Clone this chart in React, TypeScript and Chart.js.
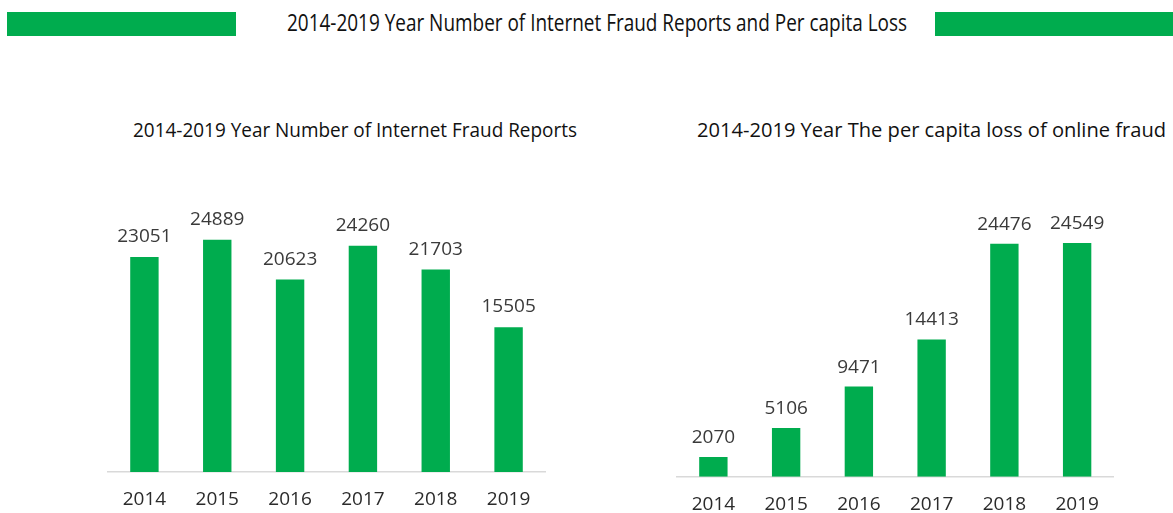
import React, { useEffect, useRef, useMemo } from "react";
import { Chart, registerables } from "chart.js";
Chart.register(...registerables);

const years = ["2014", "2015", "2016", "2017", "2018", "2019"];
const fraudReports = [23051, 24889, 20623, 24260, 21703, 15505];
const perCapitaLoss = [2070, 5106, 9471, 14413, 24476, 24549];

const mainTitle = "2014-2019 Year Number of Internet Fraud Reports and Per capita Loss";
const leftTitle = "2014-2019 Year Number of Internet Fraud Reports";
const rightTitle = "2014-2019 Year The per capita loss of online fraud";

const GREEN = "#00AC4E";
const FONT = '"Open Sans", "Noto Sans", sans-serif';

const valueLabels = {
  id: "valueLabels",
  afterDatasetsDraw(chart: any, _args: any, opts: any) {
    const ctx = chart.ctx;
    const meta = chart.getDatasetMeta(0);
    const data = chart.data.datasets[0].data;
    ctx.save();
    ctx.font = opts.font;
    ctx.fillStyle = opts.color;
    ctx.textAlign = "center";
    ctx.textBaseline = "alphabetic";
    meta.data.forEach((bar: any, i: number) => {
      ctx.fillText(String(data[i]), bar.x, bar.y - opts.gap);
    });
    ctx.restore();
  },
};

type BarProps = {
  labels: string[];
  values: number[];
  left: number;
  top: number;
  width: number;
  height: number;
  pad: { left: number; right: number; top: number; bottom: number };
  axisHeight: number;
  tickPad: number;
  gap: number;
};

function BarChart(p: BarProps) {
  const ref = useRef<HTMLCanvasElement | null>(null);
  useEffect(() => {
    if (!ref.current) return;
    const chart = new Chart(ref.current, {
      type: "bar",
      data: {
        labels: p.labels,
        datasets: [
          {
            data: p.values,
            backgroundColor: GREEN,
            borderWidth: 0,
            barPercentage: 0.39,
            categoryPercentage: 1,
          },
        ],
      },
      options: {
        responsive: false,
        animation: false,
        devicePixelRatio: 1,
        layout: { padding: p.pad },
        plugins: {
          legend: { display: false },
          tooltip: { enabled: false },
          valueLabels: { font: `19px ${FONT}`, color: "#3a3a3a", gap: p.gap },
        } as any,
        scales: {
          x: {
            grid: { display: false, drawTicks: false },
            border: { display: true, color: "#D9D9D9", width: 1.5 },
            ticks: {
              font: { family: FONT, size: 19 },
              color: "#2b2b2b",
              padding: p.tickPad,
              autoSkip: false,
              maxRotation: 0,
            },
            afterFit: (scale: any) => {
              scale.height = p.axisHeight;
            },
          },
          y: { display: false, min: 0, max: 30000 },
        },
      },
      plugins: [valueLabels as any],
    });
    return () => chart.destroy();
  }, []);
  return (
    <canvas
      ref={ref}
      width={p.width}
      height={p.height}
      style={{ position: "absolute", left: p.left, top: p.top, width: p.width, height: p.height, display: "block" }}
    />
  );
}

function FitText(props: { text: string; size: number; x: number; x2: number; baseline: number; color: string }) {
  const scale = useMemo(() => {
    const c = document.createElement("canvas").getContext("2d")!;
    c.font = `${props.size}px ${FONT}`;
    const w = c.measureText(props.text).width;
    return (props.x2 - props.x) / w;
  }, [props.text, props.size, props.x, props.x2]);
  const top = props.baseline - 0.888 * props.size;
  return (
    <span
      style={{
        position: "absolute",
        left: props.x,
        top,
        fontFamily: FONT,
        fontSize: props.size,
        lineHeight: `${props.size}px`,
        whiteSpace: "nowrap",
        color: props.color,
        transform: `scaleX(${scale})`,
        transformOrigin: "0 0",
      }}
    >
      {props.text}
    </span>
  );
}

export default function App() {
  return (
    <div
      style={{
        position: "fixed",
        left: 0,
        top: 0,
        width: 1173,
        height: 513,
        background: "#ffffff",
        overflow: "hidden",
      }}
    >
      <div style={{ position: "absolute", left: 7, top: 12, width: 229, height: 24, background: GREEN }} />
      <div style={{ position: "absolute", left: 935, top: 12, width: 238, height: 24, background: GREEN }} />
      <FitText text={mainTitle} size={23} x={287} x2={907} baseline={31} color="#111111" />
      <FitText text={leftTitle} size={20} x={133} x2={577} baseline={137.3} color="#111111" />
      <FitText text={rightTitle} size={20} x={697} x2={1166} baseline={137.3} color="#111111" />
      <BarChart
        labels={years}
        values={fraudReports}
        left={100}
        top={150}
        width={460}
        height={363}
        pad={{ left: 8, right: 15, top: 42.1, bottom: 0 }}
        axisHeight={41}
        tickPad={16}
        gap={15}
      />
      <BarChart
        labels={years}
        values={perCapitaLoss}
        left={660}
        top={150}
        width={513}
        height={363}
        pad={{ left: 17, right: 59.5, top: 41.1, bottom: 0 }}
        axisHeight={36.3}
        tickPad={16.5}
        gap={14}
      />
    </div>
  );
}
